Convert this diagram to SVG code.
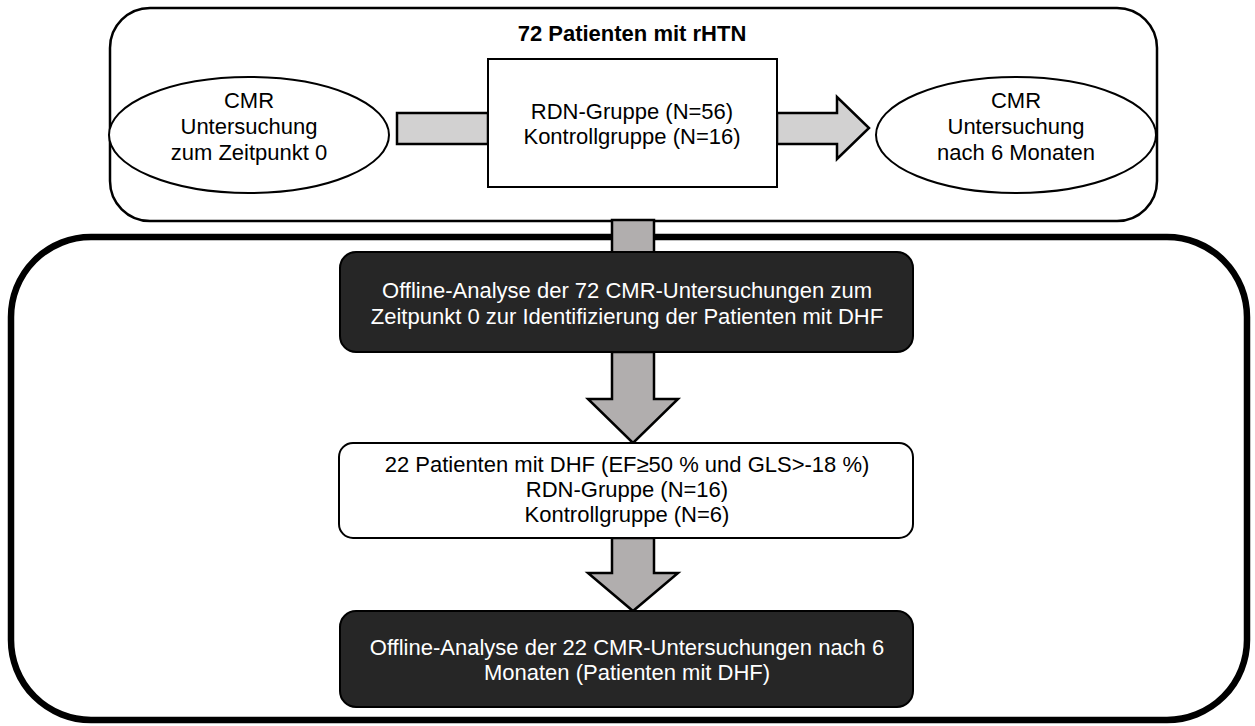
<svg xmlns="http://www.w3.org/2000/svg" width="1255" height="726" viewBox="0 0 1255 726">
  <style>
    .lbl { font-family: "Liberation Sans", Arial, sans-serif; font-size: 22px; fill: #000; text-anchor: middle; }
    .lbl-inv { font-family: "Liberation Sans", Arial, sans-serif; font-size: 22px; fill: #fff; text-anchor: middle; }
    .title { font-family: "Liberation Sans", Arial, sans-serif; font-size: 22px; font-weight: bold; fill: #000; text-anchor: middle; }
    .frame { fill: #fff; stroke: #000; stroke-width: 2.5; }
    .outer { fill: none; stroke: #000; stroke-width: 6.5; }
    .dark { fill: #262626; stroke: #000; stroke-width: 2; }
    .light { fill: #fff; stroke: #000; stroke-width: 2; }
    .arr-h { fill: #d2d1d1; stroke: #000; stroke-width: 2.5; stroke-linejoin: miter; }
    .arr-v { fill: #b1aeae; stroke: #000; stroke-width: 2.5; stroke-linejoin: miter; }
  </style>

  <rect width="1255" height="726" fill="#fff"/>

  <!-- study cohort frame -->
  <g id="cohort">
    <rect class="frame" x="110" y="8" width="1047" height="213" rx="40" ry="40"/>
    <text class="title" x="632" y="41">72 Patienten mit rHTN</text>
  </g>

  <!-- analysis frame -->
  <g id="analysis">
    <rect class="outer" x="11" y="237" width="1236" height="483" rx="80" ry="80"/>
  </g>

  <!-- connectors -->
  <g id="connectors">
    <rect class="arr-h" x="397" y="113" width="91" height="31"/>
    <polygon class="arr-h" points="777,113 837,113 837,97 869,128 837,159 837,144 777,144"/>
    <rect class="arr-v" x="612" y="220" width="42" height="33"/>
    <polygon class="arr-v" points="612,352 654,352 654,399 678,399 633,443 588,399 612,399"/>
    <polygon class="arr-v" points="612,538 654,538 654,573 678,573 633,611 588,573 612,573"/>
  </g>

  <g id="cmr-baseline">
    <ellipse class="light" cx="249" cy="135" rx="140" ry="58"/>
    <text class="lbl" x="249" y="108">CMR</text>
    <text class="lbl" x="249" y="134">Untersuchung</text>
    <text class="lbl" x="249" y="160">zum Zeitpunkt 0</text>
  </g>

  <g id="groups">
    <rect class="light" x="488" y="59" width="289" height="128"/>
    <text class="lbl" x="632" y="119">RDN-Gruppe (N=56)</text>
    <text class="lbl" x="632" y="144">Kontrollgruppe (N=16)</text>
  </g>

  <g id="cmr-followup">
    <ellipse class="light" cx="1016" cy="135" rx="140" ry="58"/>
    <text class="lbl" x="1016" y="108">CMR</text>
    <text class="lbl" x="1016" y="134">Untersuchung</text>
    <text class="lbl" x="1016" y="160">nach 6 Monaten</text>
  </g>

  <g id="offline-baseline">
    <rect class="dark" x="340" y="252" width="573" height="100" rx="16" ry="16"/>
    <text class="lbl-inv" x="627" y="298">Offline-Analyse der 72 CMR-Untersuchungen zum</text>
    <text class="lbl-inv" x="627" y="324">Zeitpunkt 0 zur Identifizierung der Patienten mit DHF</text>
  </g>

  <g id="dhf-patients">
    <rect class="light" x="339" y="443" width="574" height="95" rx="14" ry="14"/>
    <text class="lbl" x="627" y="472">22 Patienten mit DHF (EF≥50 % und GLS&gt;-18 %)</text>
    <text class="lbl" x="627" y="497">RDN-Gruppe (N=16)</text>
    <text class="lbl" x="627" y="522">Kontrollgruppe (N=6)</text>
  </g>

  <g id="offline-followup">
    <rect class="dark" x="340" y="611" width="573" height="96" rx="16" ry="16"/>
    <text class="lbl-inv" x="627" y="655">Offline-Analyse der 22 CMR-Untersuchungen nach 6</text>
    <text class="lbl-inv" x="627" y="680">Monaten (Patienten mit DHF)</text>
  </g>
</svg>
